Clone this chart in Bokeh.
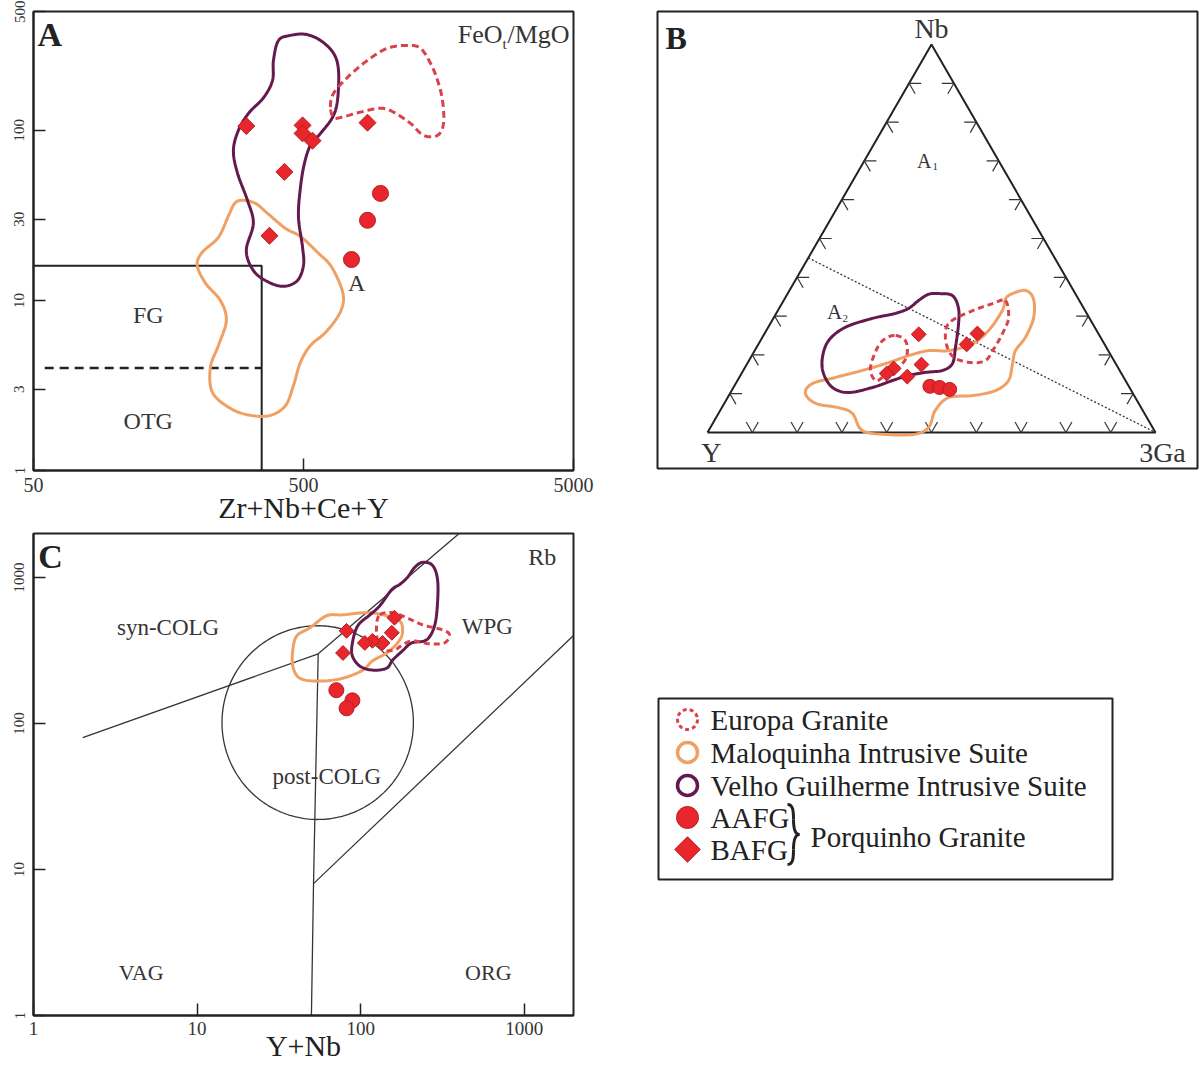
import numpy as np
from bokeh.plotting import figure
from bokeh.models import Range1d, FixedTicker, NumeralTickFormatter, Label
from bokeh.layouts import column, row
from bokeh.embed import file_html
from bokeh.resources import INLINE

SERIF = "Liberation Serif"
RED = "#e8262b"
RED_EDGE = "#b51c22"
PURPLE = "#641a4d"
ORANGE = "#efa062"
EUROPA = "#d8434b"
INK = "#222222"
GREY = "#353535"

# ---------------- Panel A : FeOt/MgO vs Zr+Nb+Ce+Y ----------------
a_xticks = [50, 500, 5000]
a_yticks = [1, 3, 10, 30, 100, 500]
a_fg_boundary_x = [50, 350, 350]
a_fg_boundary_y = [16, 16, 1]
a_otg_boundary_x = [55, 350]
a_otg_boundary_y = [4, 4]
a_bafg_x = [307, 496, 496, 540, 863, 425, 374]
a_bafg_y = [106, 107, 96, 87, 111, 57, 24]
a_aafg_x = [964, 863, 753]
a_aafg_y = [42.6, 29.6, 17.4]
a_velho_x = [404, 448, 509, 578, 646, 674, 668, 640, 578, 531, 504, 487, 479, 496, 500,
             475, 422, 368, 326, 307, 326, 310, 285, 275, 287, 313, 356, 384, 387]
a_velho_y = [338, 362, 367, 338, 284, 225, 150, 119, 96, 82, 64, 46, 31, 20.5, 16.1,
             13.1, 12.1, 12.9, 15.0, 19.7, 28.4, 38.8, 55.8, 76, 100, 126, 156, 197, 258]
a_maloq_x = [297, 332, 368, 429, 487, 563, 629, 685, 703, 674, 603, 531, 487, 459, 429,
             377, 318, 268, 230, 226, 242, 259, 246, 217, 202, 211, 242, 264, 278]
a_maloq_y = [38.8, 37.2, 32.5, 26.5, 23.8, 19.2, 16.1, 12.3, 10, 8.16, 6.48, 5.44, 4.32, 3.16, 2.41,
             2.11, 2.11, 2.32, 2.88, 4.04, 5.44, 7.63, 10, 12.6, 16.1, 19.2, 23.5, 31.6, 37.2]
a_europa_x = [629, 646, 728, 863, 1023, 1214, 1356, 1477, 1568, 1636, 1650, 1568, 1391,
              1245, 1077, 964, 813, 685, 646]
a_europa_y = [137, 165, 205, 258, 304, 316, 304, 248, 197, 150, 110, 93.5, 93.5,
              110, 128, 135, 128, 119, 119]

# ---------------- Panel B : Nb - Y - 3Ga ternary (percent) ----------------
b_tick_percent = [10, 20, 30, 40, 50, 60, 70, 80, 90]
b_a1a2_nb = [45, 0]
b_a1a2_ga3 = [0, 100]
b_bafg_nb = [25.3, 25.5, 22.7, 16.5, 15.2, 14.4, 17.5]
b_bafg_y = [40.2, 27.0, 30.8, 50.2, 52.4, 48.2, 43.5]
b_bafg_ga3 = [34.5, 47.5, 46.5, 33.3, 32.4, 37.4, 39.0]
b_aafg_nb = [11.9, 11.6, 11.1]
b_aafg_y = [44.4, 42.4, 40.4]
b_aafg_ga3 = [43.7, 46.0, 48.5]
b_velho_nb = [35.8, 35.3, 32.2, 28.1, 21.9, 17.8, 16.0, 15.5, 14.7, 13.4, 11.6, 10.3,
              11.6, 15.2, 19.3, 23.7, 27.1, 29.4, 30.7, 32.0, 34.0, 35.6]
b_velho_ga3 = [33.7, 37.0, 39.9, 42.0, 44.4, 45.8, 44.5, 41.0, 37.5, 34.6, 31.0, 26.3,
               22.1, 18.3, 16.0, 15.2, 17.2, 22.1, 26.6, 28.9, 30.1, 31.5]
b_maloq_nb = [35.8, 36.6, 34.5, 29.6, 24.5, 21.1, 17.8, 13.4, 10.8, 9.5, 9.0, 5.7, 1.3,
              -0.5, -0.5, 0.5, 4.9, 6.4, 7.5, 10.1, 12.6, 14.2, 16.0, 18.0, 19.8, 21.1,
              21.1, 22.9, 26.3, 31.4, 34.5]
b_maloq_ga3 = [50.2, 52.7, 55.5, 58.0, 58.7, 58.2, 59.2, 60.5, 58.9, 54.4, 49.3, 48.0, 48.7,
               46.3, 40.1, 34.3, 29.9, 26.0, 20.4, 16.8, 17.1, 21.5, 26.6, 31.4, 35.0, 38.8,
               43.3, 47.7, 49.6, 50.1, 49.3]
b_europa1_nb = [25.0, 23.7, 20.6, 17.8, 14.2, 13.4, 16.5, 21.9, 24.2]
b_europa1_ga3 = [29.5, 32.3, 34.3, 34.6, 32.0, 30.8, 28.1, 27.0, 27.6]
b_europa2_nb = [34.0, 29.6, 25.5, 21.1, 18.6, 18.0, 19.1, 21.9, 26.3, 28.9, 31.4, 33.2]
b_europa2_ga3 = [49.5, 52.4, 53.1, 53.1, 52.8, 50.2, 45.8, 42.6, 40.0, 40.2, 43.5, 47.0]

# ---------------- Panel C : Rb vs Y+Nb ----------------
c_xticks = [1, 10, 100, 1000]
c_yticks = [1, 10, 100, 1000]
c_syncolg_vag_x = [2, 55]
c_syncolg_vag_y = [80, 300]
c_syncolg_wpg_x = [55, 400]
c_syncolg_wpg_y = [300, 2000]
c_vag_org_x = [50, 51.5, 55]
c_vag_org_y = [1, 8, 300]
c_wpg_org_x = [51.5, 2000]
c_wpg_org_y = [8, 400]
c_postcolg_x_extent = [14.2, 210]
c_postcolg_y_extent = [22, 467]
c_bafg_x = [161, 155, 136, 118, 106, 82, 78]
c_bafg_y = [530, 418, 356, 368, 356, 431, 304]
c_aafg_x = [71, 89, 82]
c_aafg_y = [169, 144, 127]
c_velho_x = [239, 275, 295, 295, 283, 253, 205, 180, 157, 144, 118, 99, 89, 89, 96,
             114, 131, 155, 173, 193, 214]
c_velho_y = [1269, 1210, 969, 672, 467, 374, 356, 314, 272, 239, 232, 247, 290, 356, 467,
             555, 641, 826, 895, 1000, 1172]
c_maloq_x = [38.5, 40.7, 48.9, 62.0, 77.6, 109, 136, 173, 180, 168, 144, 118, 103, 77.6,
             56.2, 42.5, 38.5]
c_maloq_y = [319, 398, 452, 547, 555, 574, 555, 505, 418, 356, 304, 268, 232, 204,
             195, 204, 247]
c_europa_x = [131, 157, 191, 239, 316, 349, 325, 264, 208, 180, 161, 136, 127, 125]
c_europa_y = [555, 574, 530, 474, 438, 405, 356, 351, 368, 345, 319, 319, 374, 467]

legend_labels = ["Europa Granite", "Maloquinha Intrusive Suite",
                 "Velho Guilherme Intrusive Suite", "AAFG", "BAFG"]
legend_group = "Porquinho Granite"


# ---------------- helpers ----------------
def closed_spline(xs, ys, steps=12):
    x = np.asarray(xs, float)
    y = np.asarray(ys, float)
    n = len(x)
    ox, oy = [], []
    for i in range(n):
        i0, i1, i2, i3 = (i - 1) % n, i, (i + 1) % n, (i + 2) % n
        for t in np.linspace(0, 1, steps, endpoint=False):
            t2, t3 = t * t, t * t * t
            for a, out in ((x, ox), (y, oy)):
                out.append(0.5 * (2 * a[i1] + (-a[i0] + a[i2]) * t
                                  + (2 * a[i0] - 5 * a[i1] + 4 * a[i2] - a[i3]) * t2
                                  + (-a[i0] + 3 * a[i1] - 3 * a[i2] + a[i3]) * t3))
    ox.append(ox[0])
    oy.append(oy[0])
    return ox, oy


def log_spline(xs, ys):
    lx, ly = closed_spline(np.log10(xs), np.log10(ys))
    return list(10 ** np.array(lx)), list(10 ** np.array(ly))


H = np.sqrt(3) / 2


def tern(nb, ga3):
    nb = np.asarray(nb, float)
    ga3 = np.asarray(ga3, float)
    return list((ga3 + nb / 2) / 100), list(nb * H / 100)


def text(p, x, y, s, size, align="center", bold=False, color=GREY):
    p.add_layout(Label(x=x, y=y, text=s, text_font=SERIF, text_font_size=f"{size}px",
                       text_align=align, text_baseline="middle", text_color=color,
                       text_font_style="bold" if bold else "normal"))


def style_log(p, xt, yt, xlabel, tick_standoff, label_standoff):
    p.grid.visible = False
    p.xaxis.ticker = FixedTicker(ticks=xt)
    p.yaxis.ticker = FixedTicker(ticks=yt)
    p.xaxis.formatter = NumeralTickFormatter(format="0")
    p.yaxis.formatter = NumeralTickFormatter(format="0")
    p.axis.major_tick_in = 12
    p.axis.major_tick_out = 0
    p.axis.minor_tick_line_color = None
    p.axis.major_tick_line_color = INK
    p.axis.major_tick_line_width = 1.5
    p.axis.axis_line_color = INK
    p.axis.axis_line_width = 2
    p.axis.major_label_text_font = SERIF
    p.axis.major_label_text_color = GREY
    p.xaxis.major_label_text_font_size = "20px"
    p.xaxis.major_label_standoff = tick_standoff
    p.yaxis.major_label_text_font_size = "15px"
    p.yaxis.major_label_orientation = "vertical"
    p.yaxis.major_label_standoff = 9
    p.xaxis.axis_label = xlabel
    p.xaxis.axis_label_text_font = SERIF
    p.xaxis.axis_label_text_font_style = "normal"
    p.xaxis.axis_label_text_font_size = "30px"
    p.xaxis.axis_label_text_color = INK
    p.xaxis.axis_label_standoff = label_standoff
    p.outline_line_color = INK
    p.outline_line_width = 2


def points(p, dx, dy, cx, cy, dsize, csize):
    p.scatter(cx, cy, marker="circle", size=csize, fill_color=RED,
              line_color=RED_EDGE, line_width=1)
    p.scatter(dx, dy, marker="square", angle=np.pi / 4, size=dsize, fill_color=RED,
              line_color=RED_EDGE, line_width=1)


# ---------------- Panel A ----------------
pA = figure(title=None, x_axis_type="log", y_axis_type="log", x_range=Range1d(50, 5000),
            y_range=Range1d(1, 500), frame_width=540, frame_height=459,
            min_border_left=33, min_border_right=67, min_border_top=11,
            min_border_bottom=62, output_backend="svg", toolbar_location=None)
style_log(pA, a_xticks, a_yticks, "Zr+Nb+Ce+Y", 7, -4)
pA.line(a_fg_boundary_x, a_fg_boundary_y, line_color=INK, line_width=2)
pA.line(a_otg_boundary_x, a_otg_boundary_y, line_color=INK, line_width=2.5, line_dash="9 6")
pA.line(*log_spline(a_maloq_x, a_maloq_y), line_color=ORANGE, line_width=3)
pA.line(*log_spline(a_velho_x, a_velho_y), line_color=PURPLE, line_width=3)
pA.line(*log_spline(a_europa_x, a_europa_y), line_color=EUROPA, line_width=3, line_dash="7 4")
points(pA, a_bafg_x, a_bafg_y, a_aafg_x, a_aafg_y, 12, 16)
text(pA, 51.7, 367, "A", 34, align="left", bold=True, color=INK)
text(pA, 2730, 367, "FeO", 26, align="right")
text(pA, 2730, 321, "t", 15, align="left")
text(pA, 2847, 367, "/MgO", 26, align="left")
text(pA, 133, 8.22, "FG", 24)
text(pA, 133, 1.955, "OTG", 24)
text(pA, 786, 12.7, "A", 24)

# ---------------- Panel B ----------------
# frame shares the row's top border (11 px); the ternary scale is 448 px per unit side
pB = figure(title=None, x_range=Range1d(-0.1116, 1.0938), y_range=Range1d(-0.0804, 0.9397),
            frame_width=540, frame_height=457, min_border_left=17, min_border_right=3,
            min_border_top=11, min_border_bottom=64, x_axis_location=None,
            y_axis_location=None, output_backend="svg", toolbar_location=None)
pB.grid.visible = False
pB.outline_line_color = INK
pB.outline_line_width = 2
pB.line([0, 1, 0.5, 0], [0, 0, H, 0], line_color=INK, line_width=2)
L = 0.027
txs, tys = [], []
for pc in b_tick_percent:
    t = pc / 100
    lx, ly = t / 2, t * H
    rx, ry = 1 - t / 2, t * H
    txs += [[lx, lx + L], [lx, lx + 0.5 * L], [rx, rx - L], [rx, rx - 0.5 * L],
            [t, t - 0.5 * L], [t, t + 0.5 * L]]
    tys += [[ly, ly], [ly, ly - L * H], [ry, ry], [ry, ry - L * H],
            [0, L * H], [0, L * H]]
pB.multi_line(txs, tys, line_color=GREY, line_width=1.2)
pB.line(*tern(b_a1a2_nb, b_a1a2_ga3), line_color=GREY, line_width=1.3, line_dash="2 2")
pB.line(*closed_spline(*tern(b_maloq_nb, b_maloq_ga3)), line_color=ORANGE, line_width=3)
pB.line(*closed_spline(*tern(b_velho_nb, b_velho_ga3)), line_color=PURPLE, line_width=3)
pB.line(*closed_spline(*tern(b_europa1_nb, b_europa1_ga3)), line_color=EUROPA,
        line_width=3, line_dash="6 4")
pB.line(*closed_spline(*tern(b_europa2_nb, b_europa2_ga3)), line_color=EUROPA,
        line_width=3, line_dash="6 4")
bdx, bdy = tern(b_bafg_nb, b_bafg_ga3)
bcx, bcy = tern(b_aafg_nb, b_aafg_ga3)
points(pB, bdx, bdy, bcx, bcy, 10.5, 14)
text(pB, -0.0938, 0.8806, "B", 32, align="left", bold=True, color=INK)
text(pB, 0.5, 0.9018, "Nb", 28)
text(pB, 0.0089, -0.045, "Y", 28)
text(pB, 1.0156, -0.045, "3Ga", 28)
text(pB, 0.484, 0.607, "A", 20)
text(pB, 0.502, 0.594, "1", 11, align="left")
text(pB, 0.2835, 0.268, "A", 21)
text(pB, 0.3013, 0.254, "2", 11, align="left")

# ---------------- Panel C ----------------
pC = figure(title=None, x_axis_type="log", y_axis_type="log", x_range=Range1d(1, 2000),
            y_range=Range1d(1, 2000), frame_width=540, frame_height=482,
            min_border_left=33, min_border_right=67, min_border_top=1,
            min_border_bottom=52, output_backend="svg", toolbar_location=None)
style_log(pC, c_xticks, c_yticks, "Y+Nb", 6, -9)
pC.xaxis.major_label_text_font_size = "19px"
for bx, by in ((c_syncolg_vag_x, c_syncolg_vag_y), (c_syncolg_wpg_x, c_syncolg_wpg_y),
               (c_vag_org_x, c_vag_org_y), (c_wpg_org_x, c_wpg_org_y)):
    pC.line(bx, by, line_color=GREY, line_width=1.3)
lcx = np.log10(c_postcolg_x_extent)
lcy = np.log10(c_postcolg_y_extent)
th = np.linspace(0, 2 * np.pi, 240)
ex = 10 ** (lcx.mean() + (lcx[1] - lcx[0]) / 2 * np.cos(th))
ey = 10 ** (lcy.mean() + (lcy[1] - lcy[0]) / 2 * np.sin(th))
pC.line(list(ex), list(ey), line_color=GREY, line_width=1.3)
pC.line(*log_spline(c_maloq_x, c_maloq_y), line_color=ORANGE, line_width=3)
pC.line(*log_spline(c_velho_x, c_velho_y), line_color=PURPLE, line_width=3)
pC.line(*log_spline(c_europa_x, c_europa_y), line_color=EUROPA, line_width=3, line_dash="6 4")
points(pC, c_bafg_x, c_bafg_y, c_aafg_x, c_aafg_y, 10.5, 15)
text(pC, 1.07, 1381, "C", 34, align="left", bold=True, color=INK)
text(pC, 1567, 1390, "Rb", 24, align="right")
text(pC, 6.65, 451, "syn-COLG", 23)
text(pC, 595, 465, "WPG", 23)
text(pC, 62, 43.4, "post-COLG", 23)
text(pC, 4.55, 1.97, "VAG", 22)
text(pC, 603, 1.97, "ORG", 22)

# ---------------- Legend panel ----------------
pD = figure(title=None, x_range=Range1d(0, 560), y_range=Range1d(535, 0), frame_width=560,
            frame_height=535, min_border=0, x_axis_location=None, y_axis_location=None,
            output_backend="svg", toolbar_location=None)
pD.grid.visible = False
pD.outline_line_color = None
pD.quad(left=18, right=472, top=165, bottom=346, fill_color=None, line_color=INK,
        line_width=2)
rows_y = [186, 219, 252, 284, 316]
sx = 47
pD.scatter([sx], [rows_y[0]], marker="circle", size=20, fill_color=None,
           line_color=EUROPA, line_width=3, line_dash="4 3")
pD.scatter([sx], [rows_y[1]], marker="circle", size=20, fill_color=None,
           line_color=ORANGE, line_width=3.5)
pD.scatter([sx], [rows_y[2]], marker="circle", size=20, fill_color=None,
           line_color=PURPLE, line_width=3.5)
pD.scatter([sx], [rows_y[3]], marker="circle", size=22, fill_color=RED,
           line_color=RED_EDGE, line_width=1)
pD.scatter([sx], [rows_y[4]], marker="square", angle=np.pi / 4, size=18, fill_color=RED,
           line_color=RED_EDGE, line_width=1)
for lab, yy in zip(legend_labels, rows_y):
    text(pD, 70, yy, lab, 29, align="left", color=INK)
pD.bezier(x0=[147, 153, 159, 153], y0=[271, 286, 301, 316],
          x1=[153, 159, 153, 147], y1=[286, 301, 316, 331],
          cx0=[152.5, 153, 155, 153], cy0=[271, 296, 301, 325],
          cx1=[153, 155, 153, 152.5], cy1=[277, 301, 306, 331],
          line_color=INK, line_width=3)
text(pD, 170, 303, legend_group, 29, align="left", color=INK)

layout = column(row(pA, pB), row(pC, pD))
open("out.html", "w").write(file_html(layout, INLINE, title="Granite discrimination diagrams"))
